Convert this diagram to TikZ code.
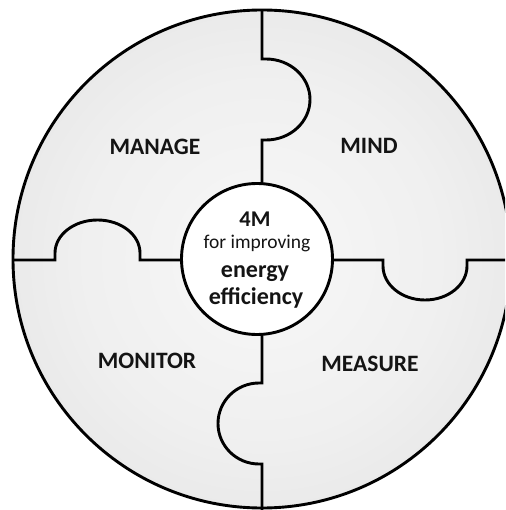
\documentclass[tikz,border=0pt]{standalone}
\usepackage{fontspec}
\setmainfont{Carlito}
\definecolor{discmid}{gray}{0.97}
\definecolor{discring}{gray}{0.94}
\definecolor{discedge}{gray}{0.84}
\definecolor{inkblack}{gray}{0.08}
\pgfdeclareradialshading{discshade}{\pgfpoint{0bp}{0bp}}{color(0bp)=(discmid); color(18bp)=(discring); color(50bp)=(discedge)}
\tikzset{
	quarter/.style={font=\bfseries\fontsize{23.5}{28}\selectfont, text=inkblack},
	hubtext/.style={anchor=base, text=inkblack, font=\bfseries\fontsize{24}{28}\selectfont},
}
\begin{document}
\begin{tikzpicture}[x=1pt, y=-1pt, line width=2.9pt]
		\useasboundingbox (0,0) rectangle (505,510);
		\clip (0,0) rectangle (505,510);
		\shade[shading=discshade] (262,259) circle (249);
		\draw (262,259) circle (249);
		\draw (262,10) -- (262,59) -- (266,59) arc[start angle=-90, end angle=90, x radius=44, y radius=40.5] -- (262,140) -- (262,259);
		\draw (262,510) -- (262,464) -- (259,464) arc[start angle=90, end angle=270, x radius=41, y radius=40.5] -- (262,383) -- (262,259);
		\draw (13,260) -- (55,260) -- (55,253) arc[start angle=180, end angle=360, x radius=42.5, y radius=33] -- (140,260) -- (262,260);
		\draw (262,260) -- (383,260) -- (383,266) arc[start angle=180, end angle=0, x radius=42, y radius=34] -- (467,260) -- (505,260);
		\node[circle, draw, fill=white, inner sep=0pt, minimum size=151pt] (hub) at (257,259) {};
		\node[quarter] (manage) at (155,147) {MANAGE};
		\node[quarter] (mind) at (369,146) {MIND};
		\node[quarter] (monitor) at (147,361) {MONITOR};
		\node[quarter] (measure) at (370,364) {MEASURE};
		\node[hubtext, font=\bfseries\fontsize{22.5}{26}\selectfont] (title) at (255,226) {4M};
		\node[hubtext, font=\fontsize{19.5}{23}\selectfont] (purpose) at (257,248) {for improving};
		\node[hubtext] (energy) at (255,277) {energy};
		\node[hubtext] (efficiency) at (256,304) {efficiency};
	\end{tikzpicture}
\end{document}
